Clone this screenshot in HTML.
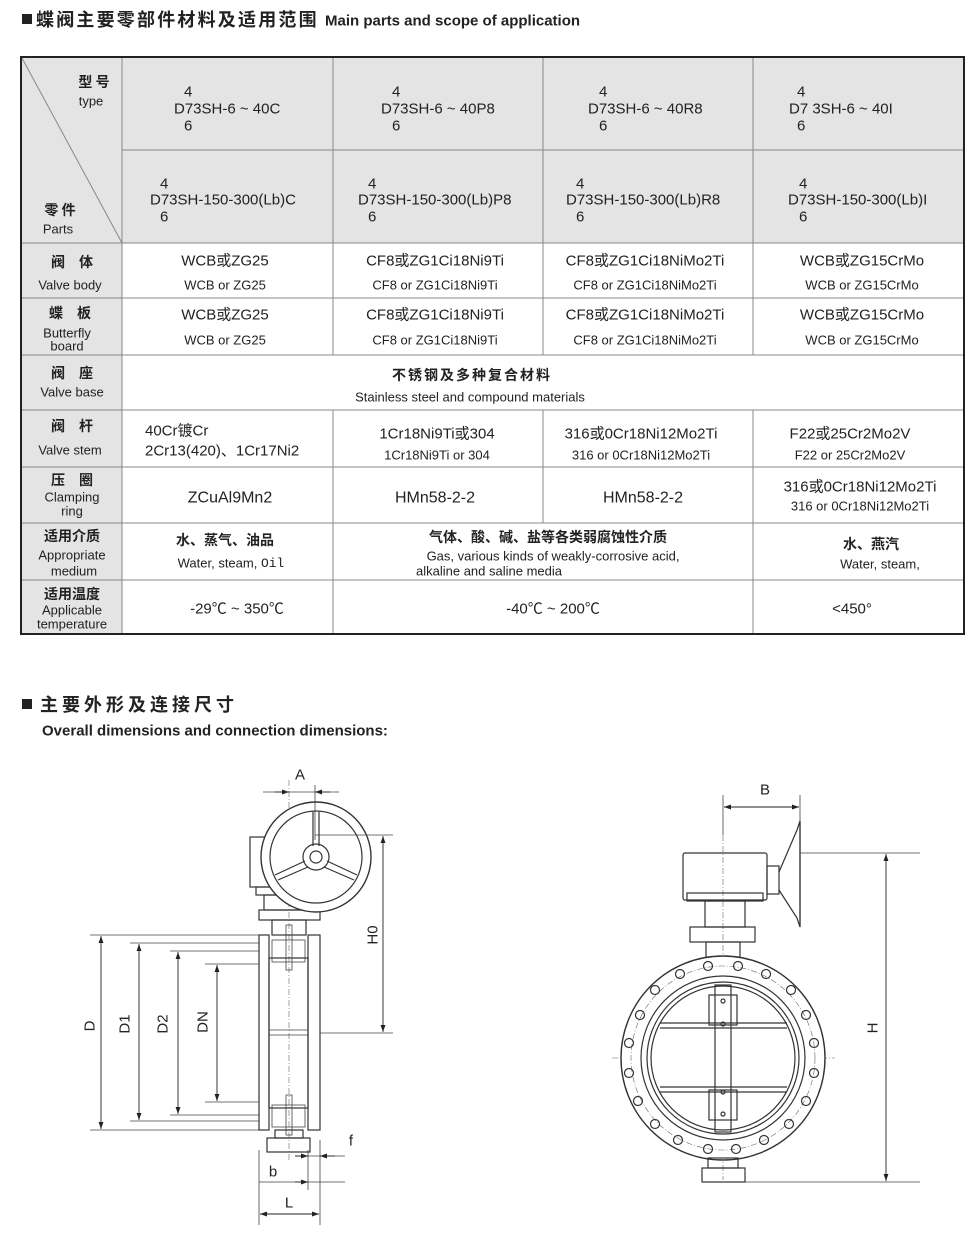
<!DOCTYPE html>
<html><head><meta charset="utf-8"><style>
html,body{margin:0;padding:0;background:#fff;}
svg{display:block;}
text{font-family:"Liberation Sans","Noto Sans CJK SC",sans-serif;fill:#222;dominant-baseline:central;}
.c{text-anchor:middle;}
.b{font-weight:bold;}
.cn{font-family:"Noto Sans CJK SC","WenQuanYi Zen Hei",sans-serif;font-weight:bold;}
.ln{stroke:#333;fill:none;stroke-width:1.2;}
.th{stroke:#444;fill:none;stroke-width:0.8;}
.dc{stroke:#666;fill:none;stroke-width:0.6;stroke-dasharray:6 2 1 2;}
</style></head><body>
<svg width="970" height="1244" viewBox="0 0 970 1244" xmlns="http://www.w3.org/2000/svg">
<defs>
<marker id="ar" viewBox="0 0 10 10" refX="10" refY="5" markerWidth="9" markerHeight="7" orient="auto-start-reverse" markerUnits="userSpaceOnUse"><path d="M0,1.5 L10,5 L0,8.5 z" fill="#222"/></marker>
</defs>
<!-- Title -->
<rect x="22" y="14" width="10" height="10" fill="#222"/>
<text x="36" y="19" class="cn" font-size="18" letter-spacing="2.2">蝶阀主要零部件材料及适用范围</text>
<text x="325" y="21" class="b" font-size="15">Main parts and scope of application</text>

<!-- table backgrounds -->
<rect x="21" y="57" width="943" height="186" fill="#e4e4e4"/>
<rect x="21" y="243" width="101" height="391" fill="#e4e4e4"/>
<g stroke="#888" stroke-width="1" fill="none">
<line x1="122" y1="150" x2="964" y2="150"/>
<line x1="21" y1="243" x2="964" y2="243"/>
<line x1="21" y1="298" x2="964" y2="298"/>
<line x1="21" y1="355" x2="964" y2="355"/>
<line x1="21" y1="410" x2="964" y2="410"/>
<line x1="21" y1="467" x2="964" y2="467"/>
<line x1="21" y1="523" x2="964" y2="523"/>
<line x1="21" y1="580" x2="964" y2="580"/>
<line x1="122" y1="57" x2="122" y2="634"/>
<line x1="333" y1="57" x2="333" y2="355"/>
<line x1="333" y1="410" x2="333" y2="634"/>
<line x1="543" y1="57" x2="543" y2="355"/>
<line x1="543" y1="410" x2="543" y2="523"/>
<line x1="753" y1="57" x2="753" y2="355"/>
<line x1="753" y1="410" x2="753" y2="634"/>
<line x1="22" y1="58" x2="122" y2="243"/>
</g>
<rect x="21" y="57" width="943" height="577" fill="none" stroke="#222" stroke-width="2"/>

<!-- header labels -->
<text x="94" y="82" class="cn c" font-size="14">型 号</text>
<text x="91" y="101" class="c" font-size="13">type</text>
<text x="60" y="210" class="cn c" font-size="14">零 件</text>
<text x="58" y="229" class="c" font-size="13">Parts</text>

<g font-size="15">
<text x="184" y="92">4</text><text x="174" y="109">D73SH-6 ~ 40C</text><text x="184" y="126">6</text>
<text x="392" y="92">4</text><text x="381" y="109">D73SH-6 ~ 40P8</text><text x="392" y="126">6</text>
<text x="599" y="92">4</text><text x="588" y="109">D73SH-6 ~ 40R8</text><text x="599" y="126">6</text>
<text x="797" y="92">4</text><text x="789" y="109">D7 3SH-6 ~ 40I</text><text x="797" y="126">6</text>

<text x="160" y="184">4</text><text x="150" y="200">D73SH-150-300(Lb)C</text><text x="160" y="217">6</text>
<text x="368" y="184">4</text><text x="358" y="200">D73SH-150-300(Lb)P8</text><text x="368" y="217">6</text>
<text x="576" y="184">4</text><text x="566" y="200">D73SH-150-300(Lb)R8</text><text x="576" y="217">6</text>
<text x="799" y="184">4</text><text x="788" y="200">D73SH-150-300(Lb)I</text><text x="799" y="217">6</text>
</g>

<!-- left labels -->
<g font-size="13">
<text x="72" y="262" class="cn c" font-size="14">阀　体</text>
<text x="70" y="285" class="c">Valve body</text>
<text x="70" y="313" class="cn c" font-size="14">蝶　板</text>
<text x="67" y="333" class="c">Butterfly</text>
<text x="67" y="346" class="c">board</text>
<text x="72" y="373" class="cn c" font-size="14">阀　座</text>
<text x="72" y="392" class="c">Valve base</text>
<text x="72" y="426" class="cn c" font-size="14">阀　杆</text>
<text x="70" y="450" class="c">Valve stem</text>
<text x="72" y="480" class="cn c" font-size="14">压　圈</text>
<text x="72" y="497" class="c">Clamping</text>
<text x="72" y="511" class="c">ring</text>
<text x="72" y="536" class="cn c" font-size="14">适用介质</text>
<text x="72" y="555" class="c">Appropriate</text>
<text x="74" y="571" class="c">medium</text>
<text x="72" y="594" class="cn c" font-size="14">适用温度</text>
<text x="72" y="610" class="c">Applicable</text>
<text x="72" y="624" class="c">temperature</text>
</g>

<!-- body cells -->
<g>
<text x="225" y="261" class="c" font-size="15">WCB或ZG25</text>
<text x="225" y="285" class="c" font-size="13">WCB or ZG25</text>
<text x="435" y="261" class="c" font-size="15">CF8或ZG1Ci18Ni9Ti</text>
<text x="435" y="285" class="c" font-size="13">CF8 or ZG1Ci18Ni9Ti</text>
<text x="645" y="261" class="c" font-size="15">CF8或ZG1Ci18NiMo2Ti</text>
<text x="645" y="285" class="c" font-size="13">CF8 or ZG1Ci18NiMo2Ti</text>
<text x="862" y="261" class="c" font-size="15">WCB或ZG15CrMo</text>
<text x="862" y="285" class="c" font-size="13">WCB or ZG15CrMo</text>

<text x="225" y="315" class="c" font-size="15">WCB或ZG25</text>
<text x="225" y="340" class="c" font-size="13">WCB or ZG25</text>
<text x="435" y="315" class="c" font-size="15">CF8或ZG1Ci18Ni9Ti</text>
<text x="435" y="340" class="c" font-size="13">CF8 or ZG1Ci18Ni9Ti</text>
<text x="645" y="315" class="c" font-size="15">CF8或ZG1Ci18NiMo2Ti</text>
<text x="645" y="340" class="c" font-size="13">CF8 or ZG1Ci18NiMo2Ti</text>
<text x="862" y="315" class="c" font-size="15">WCB或ZG15CrMo</text>
<text x="862" y="340" class="c" font-size="13">WCB or ZG15CrMo</text>

<text x="472" y="375" class="cn c" font-size="14" letter-spacing="2">不锈钢及多种复合材料</text>
<text x="470" y="397" class="c" font-size="13">Stainless steel and compound materials</text>

<text x="145" y="431" font-size="15">40Cr镀Cr</text>
<text x="145" y="451" font-size="15">2Cr13(420)、1Cr17Ni2</text>
<text x="437" y="434" class="c" font-size="15">1Cr18Ni9Ti或304</text>
<text x="437" y="455" class="c" font-size="13">1Cr18Ni9Ti or 304</text>
<text x="641" y="434" class="c" font-size="15">316或0Cr18Ni12Mo2Ti</text>
<text x="641" y="455" class="c" font-size="13">316 or 0Cr18Ni12Mo2Ti</text>
<text x="850" y="434" class="c" font-size="15">F22或25Cr2Mo2V</text>
<text x="850" y="455" class="c" font-size="13">F22 or 25Cr2Mo2V</text>

<text x="230" y="498" class="c" font-size="16">ZCuAl9Mn2</text>
<text x="435" y="498" class="c" font-size="16">HMn58-2-2</text>
<text x="643" y="498" class="c" font-size="16">HMn58-2-2</text>
<text x="860" y="487" class="c" font-size="15">316或0Cr18Ni12Mo2Ti</text>
<text x="860" y="506" class="c" font-size="13">316 or 0Cr18Ni12Mo2Ti</text>

<text x="225" y="540" class="cn c" font-size="14">水、蒸气、油品</text>
<text x="231" y="563" class="c" font-size="13">Water, steam, <tspan font-family="Liberation Mono">Oil</tspan></text>
<text x="548" y="537" class="cn c" font-size="14">气体、酸、碱、盐等各类弱腐蚀性介质</text>
<text x="553" y="556" class="c" font-size="13">Gas, various kinds of weakly-corrosive acid,</text>
<text x="416" y="571" font-size="13">alkaline and saline media</text>
<text x="871" y="544" class="cn c" font-size="14">水、燕汽</text>
<text x="880" y="564" class="c" font-size="13">Water, steam,</text>

<text x="237" y="609" class="c" font-size="15">-29℃ ~ 350℃</text>
<text x="553" y="609" class="c" font-size="15">-40℃ ~ 200℃</text>
<text x="852" y="609" class="c" font-size="15">&lt;450°</text>
</g>

<!-- section 2 title -->
<rect x="22" y="699" width="10" height="10" fill="#222"/>
<text x="40" y="704" class="cn" font-size="18" letter-spacing="4">主要外形及连接尺寸</text>
<text x="42" y="731" class="b" font-size="15">Overall dimensions and connection dimensions:</text>

<!-- LEFT DRAWING -->
<g>
<line class="dc" x1="289" y1="780" x2="289" y2="1160"/>
<rect class="ln" x="250" y="837" width="77" height="50"/>
<rect class="ln" x="256" y="887" width="64" height="8"/>
<rect class="ln" x="264" y="895" width="48" height="15"/>
<rect class="ln" x="259" y="910" width="61" height="10"/>
<rect class="ln" x="272" y="920" width="34" height="15"/>
<circle cx="316" cy="857" r="55" fill="#fff" stroke="#333" stroke-width="1.4"/>
<circle class="ln" cx="316" cy="857" r="46"/>
<circle class="ln" cx="316" cy="857" r="13"/>
<circle class="ln" cx="316" cy="857" r="6"/>
<path class="ln" d="M313,846 L313,812 M319,846 L319,812 M305,861 L275,875 M308,867 L278,880 M327,861 L357,875 M324,867 L354,880"/>
<rect class="ln" x="259" y="935" width="10" height="195"/>
<rect class="ln" x="308" y="935" width="12" height="195"/>
<rect class="ln" x="269" y="958" width="39" height="150"/>
<path class="th" d="M269,1030 L308,1030 M269,1035 L308,1035"/>
<rect class="th" x="272" y="940" width="33" height="22"/>
<rect class="th" x="272" y="1105" width="33" height="22"/>
<rect class="th" x="286" y="925" width="6" height="45"/>
<rect class="th" x="286" y="1095" width="6" height="40"/>
<rect class="ln" x="275" y="1130" width="28" height="8"/>
<rect class="ln" x="267" y="1138" width="43" height="14"/>
<g class="th">
<line x1="90" y1="935" x2="259" y2="935"/>
<line x1="90" y1="1130" x2="259" y2="1130"/>
<line x1="130" y1="943" x2="259" y2="943"/>
<line x1="130" y1="1121" x2="259" y2="1121"/>
<line x1="170" y1="951" x2="259" y2="951"/>
<line x1="170" y1="1115" x2="259" y2="1115"/>
<line x1="205" y1="964" x2="259" y2="964"/>
<line x1="205" y1="1102" x2="259" y2="1102"/>
<line x1="315" y1="835" x2="393" y2="835"/>
<line x1="320" y1="1033" x2="393" y2="1033"/>
<line x1="315" y1="785" x2="315" y2="840"/>
<line x1="259" y1="1150" x2="259" y2="1225"/>
<line x1="320" y1="1140" x2="320" y2="1225"/>
<line x1="308" y1="1150" x2="308" y2="1190"/>
<line x1="263" y1="792" x2="339" y2="792"/>
<line x1="295" y1="1156" x2="345" y2="1156"/>
<line x1="259" y1="1182" x2="345" y2="1182"/>
</g>
<g stroke="#222" stroke-width="0.9">
<line x1="101" y1="936" x2="101" y2="1129" marker-start="url(#ar)" marker-end="url(#ar)"/>
<line x1="139" y1="944" x2="139" y2="1120" marker-start="url(#ar)" marker-end="url(#ar)"/>
<line x1="178" y1="952" x2="178" y2="1114" marker-start="url(#ar)" marker-end="url(#ar)"/>
<line x1="217" y1="965" x2="217" y2="1101" marker-start="url(#ar)" marker-end="url(#ar)"/>
<line x1="383" y1="836" x2="383" y2="1032" marker-start="url(#ar)" marker-end="url(#ar)"/>
<line x1="260" y1="1214" x2="319" y2="1214" marker-start="url(#ar)" marker-end="url(#ar)"/>
<line x1="275" y1="792" x2="289" y2="792" marker-end="url(#ar)"/>
<line x1="330" y1="792" x2="315" y2="792" marker-end="url(#ar)"/>
<line x1="295" y1="1156" x2="308" y2="1156" marker-end="url(#ar)"/>
<line x1="335" y1="1156" x2="320" y2="1156" marker-end="url(#ar)"/>
<line x1="295" y1="1182" x2="308" y2="1182" marker-end="url(#ar)"/>
</g>
<text x="300" y="775" class="c" font-size="15">A</text>
<text x="351" y="1141" class="c" font-size="15">f</text>
<text x="273" y="1172" class="c" font-size="15">b</text>
<text x="289" y="1203" class="c" font-size="15">L</text>
<text transform="translate(90,1026) rotate(-90)" class="c" font-size="15">D</text>
<text transform="translate(125,1024) rotate(-90)" class="c" font-size="15">D1</text>
<text transform="translate(163,1024) rotate(-90)" class="c" font-size="15">D2</text>
<text transform="translate(203,1022) rotate(-90)" class="c" font-size="15">DN</text>
<text transform="translate(373,935) rotate(-90)" class="c" font-size="15">H0</text>
</g>

<!-- RIGHT DRAWING -->
<g>
<line class="dc" x1="723" y1="835" x2="723" y2="1180"/>
<line class="dc" x1="612" y1="1058" x2="835" y2="1058"/>
<rect class="ln" x="683" y="853" width="84" height="47" rx="2"/>
<rect class="ln" x="687" y="893" width="76" height="8"/>
<rect class="ln" x="767" y="866" width="12" height="28"/>
<path class="ln" d="M779,872 L797,830 L800,821 L800,927 L797,918 L779,890"/>
<line class="ln" x1="800" y1="821" x2="800" y2="927"/>
<rect class="ln" x="705" y="901" width="40" height="26"/>
<rect class="ln" x="690" y="927" width="65" height="15"/>
<rect class="ln" x="706" y="942" width="34" height="16"/>
<circle cx="723" cy="1058" r="102" fill="#fff" stroke="#333" stroke-width="1.4"/>
<circle class="dc" cx="723" cy="1058" r="92"/>
<circle class="ln" cx="723" cy="1058" r="82"/>
<circle class="ln" cx="723" cy="1058" r="76"/>
<circle class="ln" cx="723" cy="1058" r="72"/>
<g class="ln" fill="#fff">
<circle cx="708" cy="966" r="4.5"/><circle cx="738" cy="966" r="4.5"/>
<circle cx="680" cy="974" r="4.5"/><circle cx="766" cy="974" r="4.5"/>
<circle cx="655" cy="990" r="4.5"/><circle cx="791" cy="990" r="4.5"/>
<circle cx="640" cy="1015" r="4.5"/><circle cx="806" cy="1015" r="4.5"/>
<circle cx="629" cy="1043" r="4.5"/><circle cx="814" cy="1043" r="4.5"/>
<circle cx="629" cy="1073" r="4.5"/><circle cx="814" cy="1073" r="4.5"/>
<circle cx="638" cy="1101" r="4.5"/><circle cx="806" cy="1101" r="4.5"/>
<circle cx="655" cy="1124" r="4.5"/><circle cx="789" cy="1124" r="4.5"/>
<circle cx="678" cy="1140" r="4.5"/><circle cx="764" cy="1140" r="4.5"/>
<circle cx="708" cy="1149" r="4.5"/><circle cx="736" cy="1149" r="4.5"/>
</g>
<path class="ln" d="M660,1023 L787,1023 M660,1028 L787,1028 M660,1087 L787,1087 M660,1092 L787,1092"/>
<rect class="ln" x="715" y="985" width="16" height="147" fill="#fff"/>
<rect class="ln" x="709" y="995" width="28" height="30" fill="#fff"/>
<rect class="ln" x="709" y="1090" width="28" height="30" fill="#fff"/>
<circle class="ln" cx="723" cy="1001" r="2"/><circle class="ln" cx="723" cy="1024" r="2"/>
<circle class="ln" cx="723" cy="1092" r="2"/><circle class="ln" cx="723" cy="1114" r="2"/>
<rect class="ln" x="708" y="1158" width="30" height="10"/>
<rect class="ln" x="702" y="1168" width="43" height="14"/>
<g class="th">
<line x1="723" y1="795" x2="723" y2="835"/>
<line x1="800" y1="795" x2="800" y2="821"/>
<line x1="800" y1="853" x2="920" y2="853"/>
<line x1="745" y1="1182" x2="920" y2="1182"/>
</g>
<g stroke="#222" stroke-width="0.9">
<line x1="724" y1="807" x2="799" y2="807" marker-start="url(#ar)" marker-end="url(#ar)"/>
<line x1="886" y1="854" x2="886" y2="1181" marker-start="url(#ar)" marker-end="url(#ar)"/>
</g>
<text x="765" y="790" class="c" font-size="15">B</text>
<text transform="translate(873,1028) rotate(-90)" class="c" font-size="15">H</text>
</g>
</svg>
</body></html>
